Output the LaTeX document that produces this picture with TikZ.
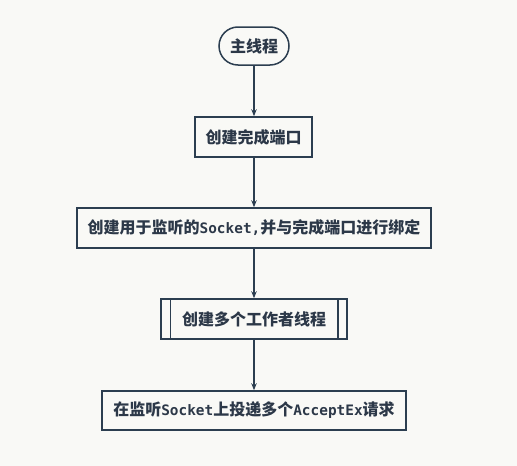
\documentclass[tikz,border=0pt]{standalone}
\usepackage{fontspec}
\setmainfont{Noto Sans CJK SC}
\newfontfamily\monof[Scale=0.9]{DejaVu Sans Mono}
\usetikzlibrary{arrows.meta}
\definecolor{bgc}{RGB}{249,249,246}
\definecolor{linec}{RGB}{44,62,80}
\definecolor{txtc}{RGB}{44,56,72}
\newcommand{\lat}[1]{{\monof\bfseries #1}}
\begin{document}
\begin{tikzpicture}[x=1pt,y=-1pt,
  box/.style={draw=linec,line width=1.5pt,fill=bgc,inner sep=0pt,text=txtc,font=\fontsize{16}{18}\selectfont\bfseries,minimum height=40pt},
  term/.style={box,rounded corners=19pt,minimum height=38pt},
  conn/.style={draw=linec,line width=1.3pt,-{Stealth[length=7pt,width=5.5pt]}}]
\fill[bgc] (0,0) rectangle (517,466);
\useasboundingbox (0,0) rectangle (517,466);
\node[term,minimum width=70pt] (n1) at (254,46) {主线程};
\node[box,minimum width=117pt] (n2) at (253.5,137) {创建完成端口};
\node[box,minimum width=354pt] (n3) at (254,228) {创建用于监听的\lat{Socket,}并与完成端口进行绑定};
\node[box,minimum width=186pt] (n4) at (254,319) {创建多个工作者线程};
\draw[linec,line width=1.5pt] ([xshift=10pt]n4.north west) -- ([xshift=10pt]n4.south west);
\draw[linec,line width=1.5pt] ([xshift=-10pt]n4.north east) -- ([xshift=-10pt]n4.south east);
\node[box,minimum width=304pt,minimum height=39pt] (n5) at (254,410.5) {在监听\lat{Socket}上投递多个\lat{AcceptEx}请求};
\draw[conn] (n1.south -| 254,0) -- (n2.north -| 254,0);
\draw[conn] (n2.south -| 254,0) -- (n3.north);
\draw[conn] (n3.south) -- (n4.north);
\draw[conn] (n4.south) -- (n5.north);
\end{tikzpicture}
\end{document}
